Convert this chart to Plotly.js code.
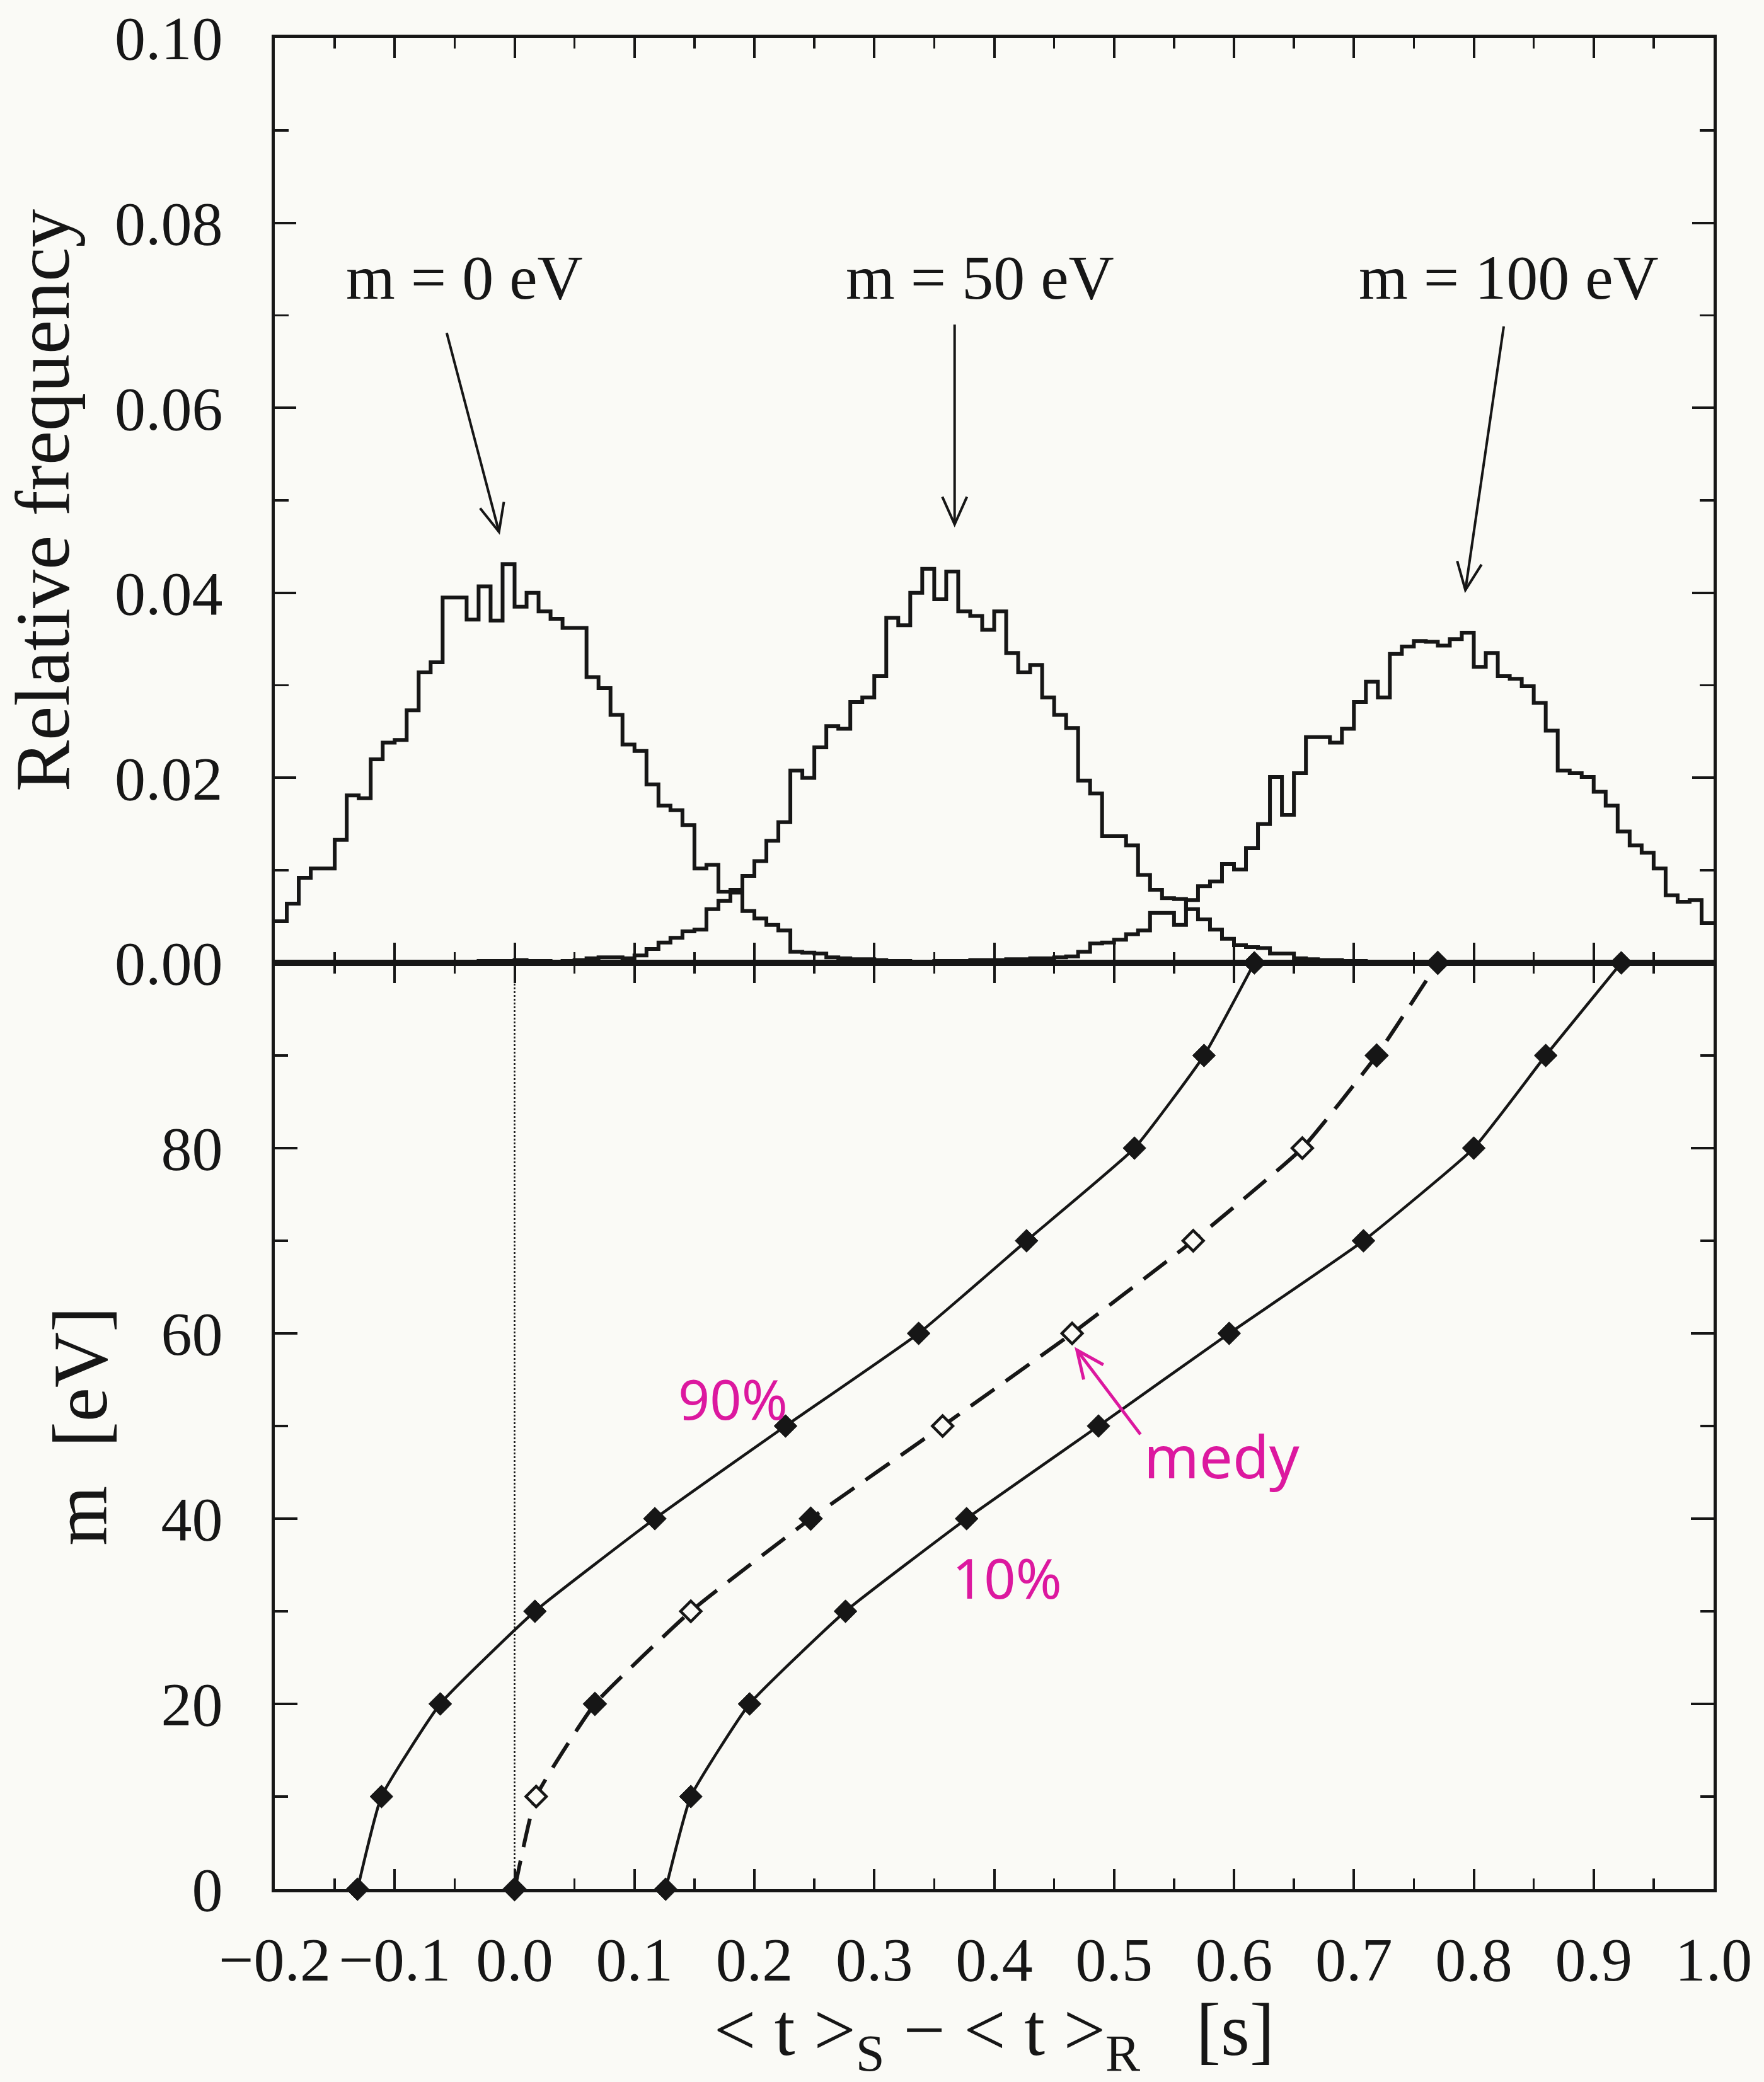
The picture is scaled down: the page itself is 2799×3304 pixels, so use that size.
<!DOCTYPE html>
<html>
<head>
<meta charset="utf-8">
<script src="https://cdn.plot.ly/plotly-3.0.1.min.js"></script>
<style>html,body{margin:0;padding:0;background:#fafaf6;}</style>
</head>
<body>
<div id="chart" style="width:2799px;height:3304px;"></div>
<script>
// ---------- top panel: histograms (relative frequency per 0.01 s bin) ----------
const binStart = -0.2;
const binWidth = 0.01;

const freqM0 = [
  0.0045, 0.0064, 0.0092, 0.0102, 0.0102, 0.0133, 0.0181, 0.0178, 0.0220, 0.0238,
  0.0241, 0.0273, 0.0314, 0.0325, 0.0395, 0.0395, 0.0371, 0.0407, 0.0370, 0.0431,
  0.0385, 0.0400, 0.0380, 0.0372, 0.0362, 0.0362, 0.0309, 0.0297, 0.0268, 0.0236,
  0.0229, 0.0193, 0.0170, 0.0165, 0.0149, 0.0102, 0.0106, 0.0077, 0.0076, 0.0056,
  0.0048, 0.0041, 0.0035, 0.0012, 0.0011, 0.0010, 0.0006, 0.0005, 0.0004, 0.0004,
  0.0003, 0.0002, 0.0002, 0.0001, 0.0001, 0.0001, 0.0001, 0.0000, 0.0001, 0.0000,
  0, 0, 0, 0, 0, 0, 0, 0, 0, 0,
  0, 0, 0, 0, 0, 0, 0, 0, 0, 0,
  0, 0, 0, 0, 0, 0, 0, 0, 0, 0,
  0, 0, 0, 0, 0, 0, 0, 0, 0, 0,
  0, 0, 0, 0, 0, 0, 0, 0, 0, 0,
  0, 0, 0, 0, 0, 0, 0, 0, 0, 0
];

const freqM50 = [
  0, 0, 0, 0, 0, 0, 0, 0, 0, 0,
  0, 0, 0, 0, 0.0001, 0.0001, 0.0001, 0.0002, 0.0002, 0.0002,
  0.0003, 0.0002, 0.0002, 0.0001, 0.0002, 0.0003, 0.0005, 0.0006, 0.0006, 0.0005,
  0.0008, 0.0015, 0.0022, 0.0027, 0.0034, 0.0036, 0.0058, 0.0067, 0.0079, 0.0094,
  0.0110, 0.0132, 0.0152, 0.0208, 0.0200, 0.0233, 0.0256, 0.0253, 0.0282, 0.0287,
  0.0310, 0.0373, 0.0365, 0.0400, 0.0426, 0.0393, 0.0423, 0.0380, 0.0375, 0.0360,
  0.0380, 0.0335, 0.0314, 0.0322, 0.0287, 0.0268, 0.0254, 0.0197, 0.0183, 0.0137,
  0.0137, 0.0127, 0.0095, 0.0079, 0.0070, 0.0069, 0.0058, 0.0047, 0.0036, 0.0026,
  0.0019, 0.0017, 0.0016, 0.0010, 0.0010, 0.0005, 0.0004, 0.0003, 0.0003, 0.0002,
  0.0002, 0.0001, 0.0001, 0.0001, 0.0001, 0.0001, 0, 0, 0, 0,
  0, 0, 0, 0, 0, 0, 0, 0, 0, 0,
  0, 0, 0, 0, 0, 0, 0, 0, 0, 0
];

const freqM100 = [
  0, 0, 0, 0, 0, 0, 0, 0, 0, 0,
  0, 0, 0, 0, 0, 0, 0, 0, 0, 0,
  0, 0, 0, 0, 0, 0, 0, 0, 0, 0,
  0, 0, 0, 0, 0, 0, 0, 0, 0, 0,
  0, 0, 0, 0, 0, 0, 0, 0, 0, 0,
  0, 0, 0.0001, 0.0001, 0.0001, 0.0002, 0.0002, 0.0002, 0.0003, 0.0003,
  0.0003, 0.0004, 0.0004, 0.0005, 0.0005, 0.0006, 0.0007, 0.0012, 0.0021, 0.0022,
  0.0025, 0.0031, 0.0035, 0.0054, 0.0054, 0.0041, 0.0068, 0.0083, 0.0088, 0.0107,
  0.0101, 0.0124, 0.0150, 0.0201, 0.0160, 0.0205, 0.0244, 0.0244, 0.0238, 0.0253,
  0.0282, 0.0304, 0.0287, 0.0334, 0.0342, 0.0348, 0.0347, 0.0343, 0.0350, 0.0357,
  0.0320, 0.0335, 0.0310, 0.0307, 0.0299, 0.0281, 0.0251, 0.0208, 0.0205, 0.0201,
  0.0185, 0.0170, 0.0142, 0.0127, 0.0119, 0.0102, 0.0073, 0.0066, 0.0068, 0.0043
];

const histLabels = ['m = 0 eV', 'm = 50 eV', 'm = 100 eV'];

// ---------- bottom panel: quantile curves ----------
const massEV = [0, 10, 20, 30, 40, 50, 60, 70, 80, 90, 100];
const t90 = [-0.131, -0.111, -0.062, 0.017, 0.117, 0.226, 0.337, 0.427, 0.517, 0.575, 0.617];
const tMedian = [0.000, 0.018, 0.067, 0.147, 0.247, 0.357, 0.465, 0.566, 0.657, 0.719, 0.770];
const t10 = [0.126, 0.147, 0.196, 0.276, 0.377, 0.487, 0.596, 0.708, 0.800, 0.860, 0.923];
const medianOpen = [false, true, false, true, false, true, true, true, true, false, false];

const INK = '#161616';
const SERIF = '"Liberation Serif", "Times New Roman", serif';
const MAGENTA = '#dc189f';
const BG = '#fafaf6';

// figure geometry (pixels)
const W = 2799, H = 3304;
const M = {l: 436, r: 80, t: 60, b: 306};
const splitFrac = 0.50034;
const plotW = W - M.l - M.r, plotH = H - M.t - M.b;
const pxPerX = plotW / 1.2;
const pxPerYTop = plotH * (1 - splitFrac) / 0.1;
const pxPerYBot = plotH * splitFrac / 100;

function histTrace(vals) {
  return {
    type: 'scatter', mode: 'lines',
    x0: binStart, dx: binWidth,
    y: vals.concat(vals.slice(-1)),
    xaxis: 'x2', yaxis: 'y',
    line: {shape: 'hv', color: INK, width: 6},
    hoverinfo: 'skip', showlegend: false
  };
}

// arrow = shaft line + open "V" head (head drawn in pixel units at the tip)
function arrow(xref, yref, tail, head, pxY, color, width) {
  const dx = (head[0] - tail[0]) * pxPerX;
  const dy = (head[1] - tail[1]) * pxY;
  const n = Math.hypot(dx, dy);
  const bx = -dx / n, by = -dy / n;
  const L = 48, th = 24 * Math.PI / 180;
  const c = Math.cos(th), s = Math.sin(th);
  const a1 = [L * (bx * c - by * s), L * (bx * s + by * c)];
  const a2 = [L * (bx * c + by * s), L * (-bx * s + by * c)];
  return [
    {type: 'line', xref: xref, yref: yref, x0: tail[0], y0: tail[1], x1: head[0], y1: head[1],
     line: {color: color, width: width}},
    {type: 'path', xref: xref, yref: yref, xsizemode: 'pixel', ysizemode: 'pixel',
     xanchor: head[0], yanchor: head[1],
     path: `M ${a1[0].toFixed(2)},${a1[1].toFixed(2)} L 0,0 L ${a2[0].toFixed(2)},${a2[1].toFixed(2)}`,
     line: {color: color, width: width}}
  ];
}

const curveLine = {color: INK, width: 4.5, shape: 'spline', smoothing: 0.4};

const traces = [
  histTrace(freqM0),
  histTrace(freqM50),
  histTrace(freqM100),
  {
    type: 'scatter', mode: 'lines+markers', x: t90, y: massEV,
    xaxis: 'x', yaxis: 'y2', cliponaxis: false, showlegend: false,
    line: curveLine,
    marker: {symbol: 'diamond', size: 28, color: INK, line: {color: INK, width: 1}}
  },
  {
    type: 'scatter', mode: 'lines+markers', x: tMedian, y: massEV,
    xaxis: 'x', yaxis: 'y2', cliponaxis: false, showlegend: false,
    line: {color: INK, width: 6, dash: '46px,22px', shape: 'spline', smoothing: 0.4},
    marker: {symbol: 'diamond', size: 25,
      color: medianOpen.map(o => o ? BG : INK),
      line: {color: INK, width: 4.5}}
  },
  {
    type: 'scatter', mode: 'lines+markers', x: t10, y: massEV,
    xaxis: 'x', yaxis: 'y2', cliponaxis: false, showlegend: false,
    line: curveLine,
    marker: {symbol: 'diamond', size: 28, color: INK, line: {color: INK, width: 1}}
  }
];

const tickFont = {family: SERIF, size: 98, color: INK};
const titleFont = {family: SERIF, size: 122, color: INK};

const xCommon = {
  range: [-0.2, 1.0], showgrid: false, zeroline: false,
  showline: true, linewidth: 5, linecolor: INK, mirror: 'ticks',
  ticks: 'inside', ticklen: 32, tickwidth: 4, tickcolor: INK,
  tick0: 0, dtick: 0.1, tickformat: '.1f', tickangle: 0,
  minor: {dtick: 0.05, tick0: 0, ticks: 'inside', ticklen: 17, tickwidth: 3.5, tickcolor: INK, showgrid: false},
  tickfont: tickFont
};

const shapes = [
  {type: 'line', xref: 'x', yref: 'y2', x0: 0, x1: 0, y0: 0, y1: 100,
   layer: 'below', line: {color: INK, width: 2.5, dash: 'dot'}}
]
  .concat(arrow('x2', 'y', [-0.0566, 0.0681], [-0.013, 0.0466], pxPerYTop, INK, 4))
  .concat(arrow('x2', 'y', [0.367, 0.0690], [0.367, 0.0474], pxPerYTop, INK, 4))
  .concat(arrow('x2', 'y', [0.825, 0.0688], [0.793, 0.0403], pxPerYTop, INK, 4))
  .concat(arrow('x', 'y2', [0.522, 49.1], [0.469, 58.2], pxPerYBot, MAGENTA, 5));

const layout = {
  width: W, height: H,
  paper_bgcolor: BG, plot_bgcolor: BG,
  margin: M,
  showlegend: false,
  xaxis: Object.assign({}, xCommon, {
    anchor: 'y2', domain: [0, 1], ticklabelstandoff: 22,
    title: {
      text: '&lt; t &gt;<sub>S</sub> − &lt; t &gt;<sub>R</sub>&nbsp;&nbsp; [s]',
      font: {family: SERIF, size: 118, color: INK}, standoff: 36
    }
  }),
  xaxis2: Object.assign({}, xCommon, {
    anchor: 'y', domain: [0, 1], matches: 'x', showticklabels: false
  }),
  yaxis: {
    domain: [splitFrac, 1], anchor: 'x2', range: [0, 0.1],
    showgrid: false, zeroline: false,
    showline: true, linewidth: 5, linecolor: INK, mirror: 'ticks',
    ticks: 'inside', ticklen: 34, tickwidth: 4, tickcolor: INK,
    tick0: 0, dtick: 0.02, tickformat: '.2f',
    minor: {dtick: 0.01, tick0: 0, ticks: 'inside', ticklen: 22, tickwidth: 3.5, tickcolor: INK, showgrid: false},
    tickfont: tickFont, ticklabelstandoff: 58,
    title: {text: 'Relative frequency', font: titleFont, standoff: 62}
  },
  yaxis2: {
    domain: [0, splitFrac], anchor: 'x', range: [0, 100],
    showgrid: false, zeroline: false,
    showline: true, linewidth: 5, linecolor: INK, mirror: 'ticks',
    ticks: 'inside', ticklen: 36, tickwidth: 4, tickcolor: INK,
    tickmode: 'array', tickvals: [0, 20, 40, 60, 80],
    minor: {tickmode: 'linear', dtick: 10, tick0: 0, ticks: 'inside', ticklen: 21, tickwidth: 3.5, tickcolor: INK, showgrid: false},
    tickfont: tickFont, ticklabelstandoff: 58,
    title: {text: 'm&nbsp; [eV]', font: titleFont, standoff: 46}
  },
  shapes: shapes,
  annotations: [
    {xref: 'x2', yref: 'y', x: -0.042, y: 0.0741, text: histLabels[0], showarrow: false,
     font: {family: SERIF, size: 100, color: INK}, xanchor: 'center', yanchor: 'middle'},
    {xref: 'x2', yref: 'y', x: 0.388, y: 0.0741, text: histLabels[1], showarrow: false,
     font: {family: SERIF, size: 100, color: INK}, xanchor: 'center', yanchor: 'middle'},
    {xref: 'x2', yref: 'y', x: 0.829, y: 0.0741, text: histLabels[2], showarrow: false,
     font: {family: SERIF, size: 100, color: INK}, xanchor: 'center', yanchor: 'middle'},
    // handwritten magenta notes
    {xref: 'x', yref: 'y2', x: 0.182, y: 53, text: '90%', showarrow: false,
     font: {family: 'Noto Sans', size: 88, color: MAGENTA}, xanchor: 'center', yanchor: 'middle'},
    {xref: 'x', yref: 'y2', x: 0.411, y: 33.7, text: '10%', showarrow: false,
     font: {family: 'Noto Sans', size: 88, color: MAGENTA}, xanchor: 'center', yanchor: 'middle'},
    {xref: 'x', yref: 'y2', x: 0.590, y: 46.8, text: 'medy', showarrow: false,
     font: {family: 'Noto Sans', size: 94, color: MAGENTA}, xanchor: 'center', yanchor: 'middle'}
  ]
};

Plotly.newPlot('chart', traces, layout, {staticPlot: true, displayModeBar: false});
</script>
</body>
</html>
